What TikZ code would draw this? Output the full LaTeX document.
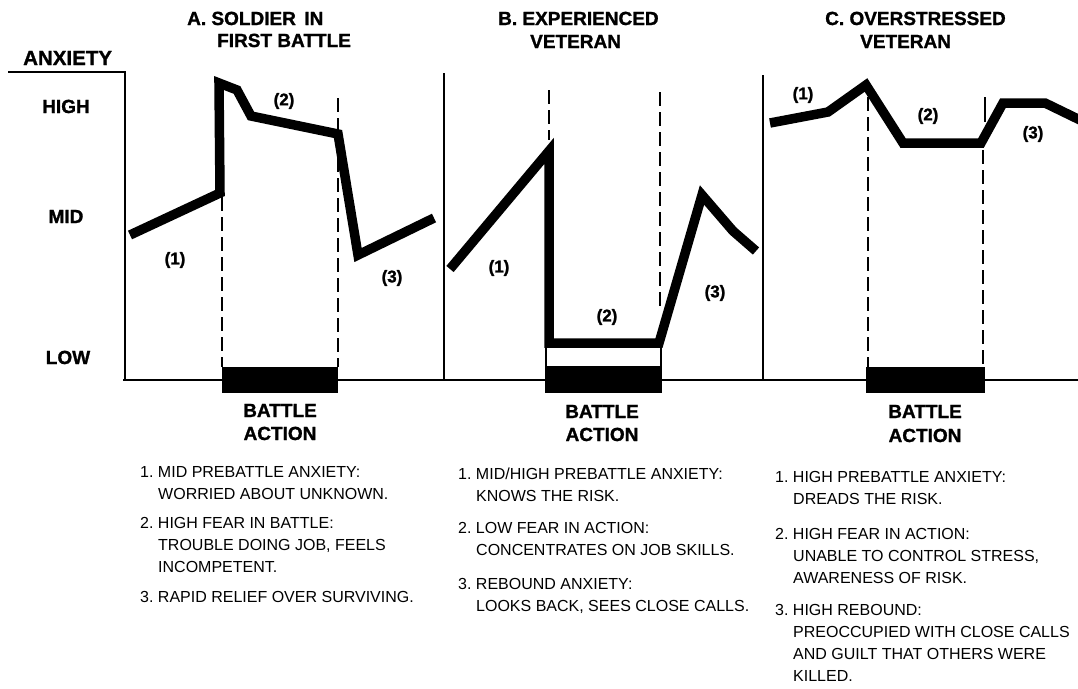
\documentclass[tikz,border=0pt]{standalone}
\usepackage{fontspec}
\setmainfont{Liberation Sans}
\newfontfamily\heavy[BoldFeatures={FakeBold=1.2}]{Liberation Sans}
\frenchspacing
\begin{document}
\begin{tikzpicture}[x=1pt,y=-1pt,
  curve/.style={line width=9.5pt, line join=miter, line cap=butt},
  thinln/.style={line width=1.6pt},
  dashln/.style={line width=1.6pt, dash pattern=on 14pt off 6pt},
  title/.style={font=\fontsize{19}{22}\selectfont\heavy\bfseries, anchor=base west, inner sep=0},
  lvl/.style={font=\fontsize{19}{22}\selectfont\heavy\bfseries, anchor=base, inner sep=0},
  num/.style={font=\fontsize{17}{18}\selectfont\heavy\bfseries, inner sep=0},
  body/.style={font=\fontsize{16}{22}\selectfont, anchor=base west, inner sep=0}]
\useasboundingbox (0,0) rectangle (1078,688);

% axes and panel dividers
\draw[thinln] (8,72) -- (125,72) -- (125,380);
\draw[thinln] (123,380) -- (1078,380);
\draw[thinln] (444,73) -- (444,380);
\draw[thinln] (763,75) -- (763,380);

% battle bars
\fill (222,367) rectangle (338,393);
\draw[thinln, fill=white] (546,347) rectangle (661,367);
\fill (545,367) rectangle (662,393);
\fill (866,367) rectangle (985,393);

% dashed markers
\draw[dashln] (222,197) -- (222,367);
\draw[dashln] (338,98) -- (338,367);
\draw[dashln] (549,90) -- (549,140);
\draw[dashln] (660,92) -- (660,312);
\draw[dashln] (868,97) -- (868,367);
\draw[thinln] (985,97) -- (985,122);
\draw[dashln] (983,150) -- (983,367);

% curves
\draw[curve] (130,235) -- (220,193) -- (219,83) -- (237,90) -- (251,116) -- (338,134) -- (358,255) -- (434,218);
\draw[curve] (450,269) -- (549,151) -- (549,343) -- (659,343) -- (702,195) -- (733,231) -- (756,251);
\draw[curve] (770,123) -- (828,112) -- (866,85) -- (903,143) -- (981,143) -- (1003,103) -- (1045,103) -- (1080,120);

% axis labels
\node[title, font=\fontsize{20.5}{22}\selectfont\heavy\bfseries] (anx) at (23,65) {ANXIETY};
\node[lvl] (high) at (66,113) {HIGH};
\node[lvl] (mid) at (66,223) {MID};
\node[lvl] (low) at (68,364) {LOW};

% titles
\node[title] (ta1) at (187,25) {A. SOLDIER\, IN};
\node[title] (ta2) at (217,47) {FIRST BATTLE};
\node[title] (tb1) at (498,25) {B. EXPERIENCED};
\node[title] (tb2) at (530,48) {VETERAN};
\node[title] (tc1) at (825,25) {C. OVERSTRESSED};
\node[title] (tc2) at (860,48) {VETERAN};

% phase numbers
\node[num] (a1) at (175,260) {(1)};
\node[num] (a2) at (284,101) {(2)};
\node[num] (a3) at (392,278) {(3)};
\node[num] (b1) at (499,268) {(1)};
\node[num] (b2) at (607,317) {(2)};
\node[num] (b3) at (715,293) {(3)};
\node[num] (c1) at (803,95) {(1)};
\node[num] (c2) at (928,116) {(2)};
\node[num] (c3) at (1033,134) {(3)};

% battle action labels
\node[lvl] (bat1) at (280,417) {BATTLE};
\node[lvl] (act1) at (280,440) {ACTION};
\node[lvl] (bat2) at (602,418) {BATTLE};
\node[lvl] (act2) at (602,441) {ACTION};
\node[lvl] (bat3) at (925,418) {BATTLE};
\node[lvl] (act3) at (925,442) {ACTION};

% notes A
\node[body] (na1) at (140,477) {1. MID PREBATTLE ANXIETY:};
\node[body] (na2) at (158,499) {WORRIED ABOUT UNKNOWN.};
\node[body] (na3) at (140,528) {2. HIGH FEAR IN BATTLE:};
\node[body] (na4) at (158,550) {TROUBLE DOING JOB, FEELS};
\node[body] (na5) at (158,572) {INCOMPETENT.};
\node[body] (na6) at (140,602) {3. RAPID RELIEF OVER SURVIVING.};

% notes B
\node[body] (nb1) at (458,479) {1. MID/HIGH PREBATTLE ANXIETY:};
\node[body] (nb2) at (476,501) {KNOWS THE RISK.};
\node[body] (nb3) at (458,533) {2. LOW FEAR IN ACTION:};
\node[body] (nb4) at (476,555) {CONCENTRATES ON JOB SKILLS.};
\node[body] (nb5) at (458,589) {3. REBOUND ANXIETY:};
\node[body] (nb6) at (476,611) {LOOKS BACK, SEES CLOSE CALLS.};

% notes C
\node[body] (nc1) at (775,482) {1. HIGH PREBATTLE ANXIETY:};
\node[body] (nc2) at (793,504) {DREADS THE RISK.};
\node[body] (nc3) at (775,539) {2. HIGH FEAR IN ACTION:};
\node[body] (nc4) at (793,561) {UNABLE TO CONTROL STRESS,};
\node[body] (nc5) at (793,583) {AWARENESS OF RISK.};
\node[body] (nc6) at (775,615) {3. HIGH REBOUND:};
\node[body] (nc7) at (793,637) {PREOCCUPIED WITH CLOSE CALLS};
\node[body] (nc8) at (793,659) {AND GUILT THAT OTHERS WERE};
\node[body] (nc9) at (793,681) {KILLED.};
\end{tikzpicture}
\end{document}
